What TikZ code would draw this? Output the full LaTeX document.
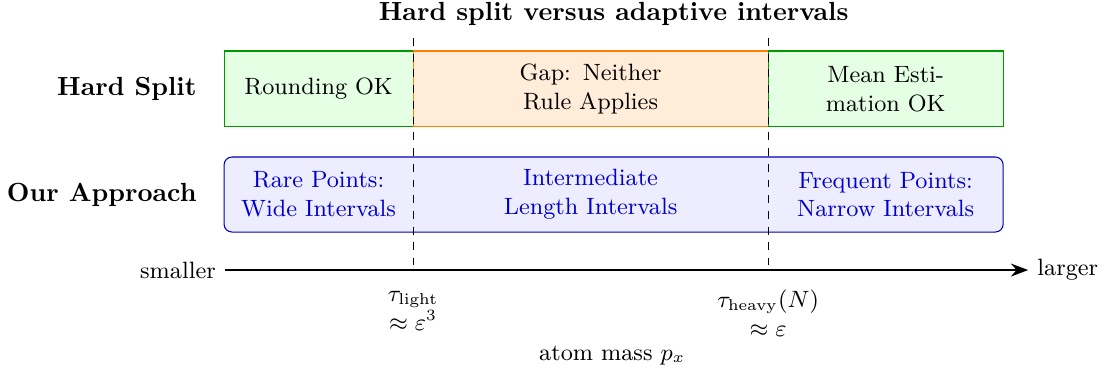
\documentclass[tikz,border=0pt]{standalone}
\usetikzlibrary{arrows.meta}
\begin{document}
\begin{tikzpicture}[
  okbox/.style={draw=green!60!black, fill=green!10},
  gapbox/.style={draw=orange, fill=orange!15},
  ourbox/.style={draw=blue!70!black, fill=blue!7, rounded corners=3pt},
  boxtext/.style={text width=2.5cm, align=center, font=\small},
  ourtext/.style={boxtext, text=blue!80!black},
  rowlabel/.style={anchor=east, font=\bfseries},
  thresh/.style={align=center, font=\small}
]
\useasboundingbox (0,0) rectangle (14.82,4.963);

\coordinate (A) at (3.005,3.264);
\coordinate (B) at (5.540,4.279);
\coordinate (C) at (5.540,3.264);
\coordinate (D) at (10.302,4.279);
\coordinate (E) at (10.302,3.264);
\coordinate (F) at (13.454,4.279);
\coordinate (G) at (3.005,1.851);
\coordinate (H) at (13.454,2.857);

\coordinate (L1) at (5.540,4.453);
\coordinate (L2) at (5.540,1.408);
\coordinate (H1) at (10.302,4.453);
\coordinate (H2) at (10.302,1.408);

\coordinate (S) at (3.018,1.341);
\coordinate (T) at (13.790,1.341);

\draw[okbox] (A) rectangle (B);
\draw[gapbox] (C) rectangle (D);
\draw[okbox] (E) rectangle (F);
\draw[ourbox] (G) rectangle (H);

\node[boxtext] (round) at (4.273,3.771) {Rounding OK};
\node[boxtext] (gap) at (7.921,3.771) {Gap: Neither Rule Applies};
\node[boxtext] (mean) at (11.878,3.771) {Mean Estimation OK};

\node[ourtext] (rare) at (4.273,2.354) {Rare Points: Wide Intervals};
\node[ourtext] (mid) at (7.921,2.354) {Intermediate Length Intervals};
\node[ourtext] (freq) at (11.878,2.354) {Frequent Points: Narrow Intervals};

\node[rowlabel] (hard) at (2.76,3.771) {Hard Split};
\node[rowlabel] (ours) at (2.76,2.354) {Our Approach};
\node[font=\bfseries] (title) at (8.230,4.775) {Hard split versus adaptive intervals};

\draw[dashed] (L1) -- (L2);
\draw[dashed] (H1) -- (H2);

\draw[thick, -{Stealth}] (S) -- (T);
\node[anchor=east, font=\small] (small) at (S) {smaller};
\node[anchor=west, font=\small] (large) at (T) {larger};

\node[thresh] (light) at (5.540,0.791) {$\tau_{\mathrm{light}}$\\$\approx\varepsilon^3$};
\node[thresh] (heavy) at (10.302,0.765) {$\tau_{\mathrm{heavy}}(N)$\\$\approx\varepsilon$};
\node[font=\small] (mass) at (8.210,0.201) {atom mass $p_x$};
\end{tikzpicture}
\end{document}
